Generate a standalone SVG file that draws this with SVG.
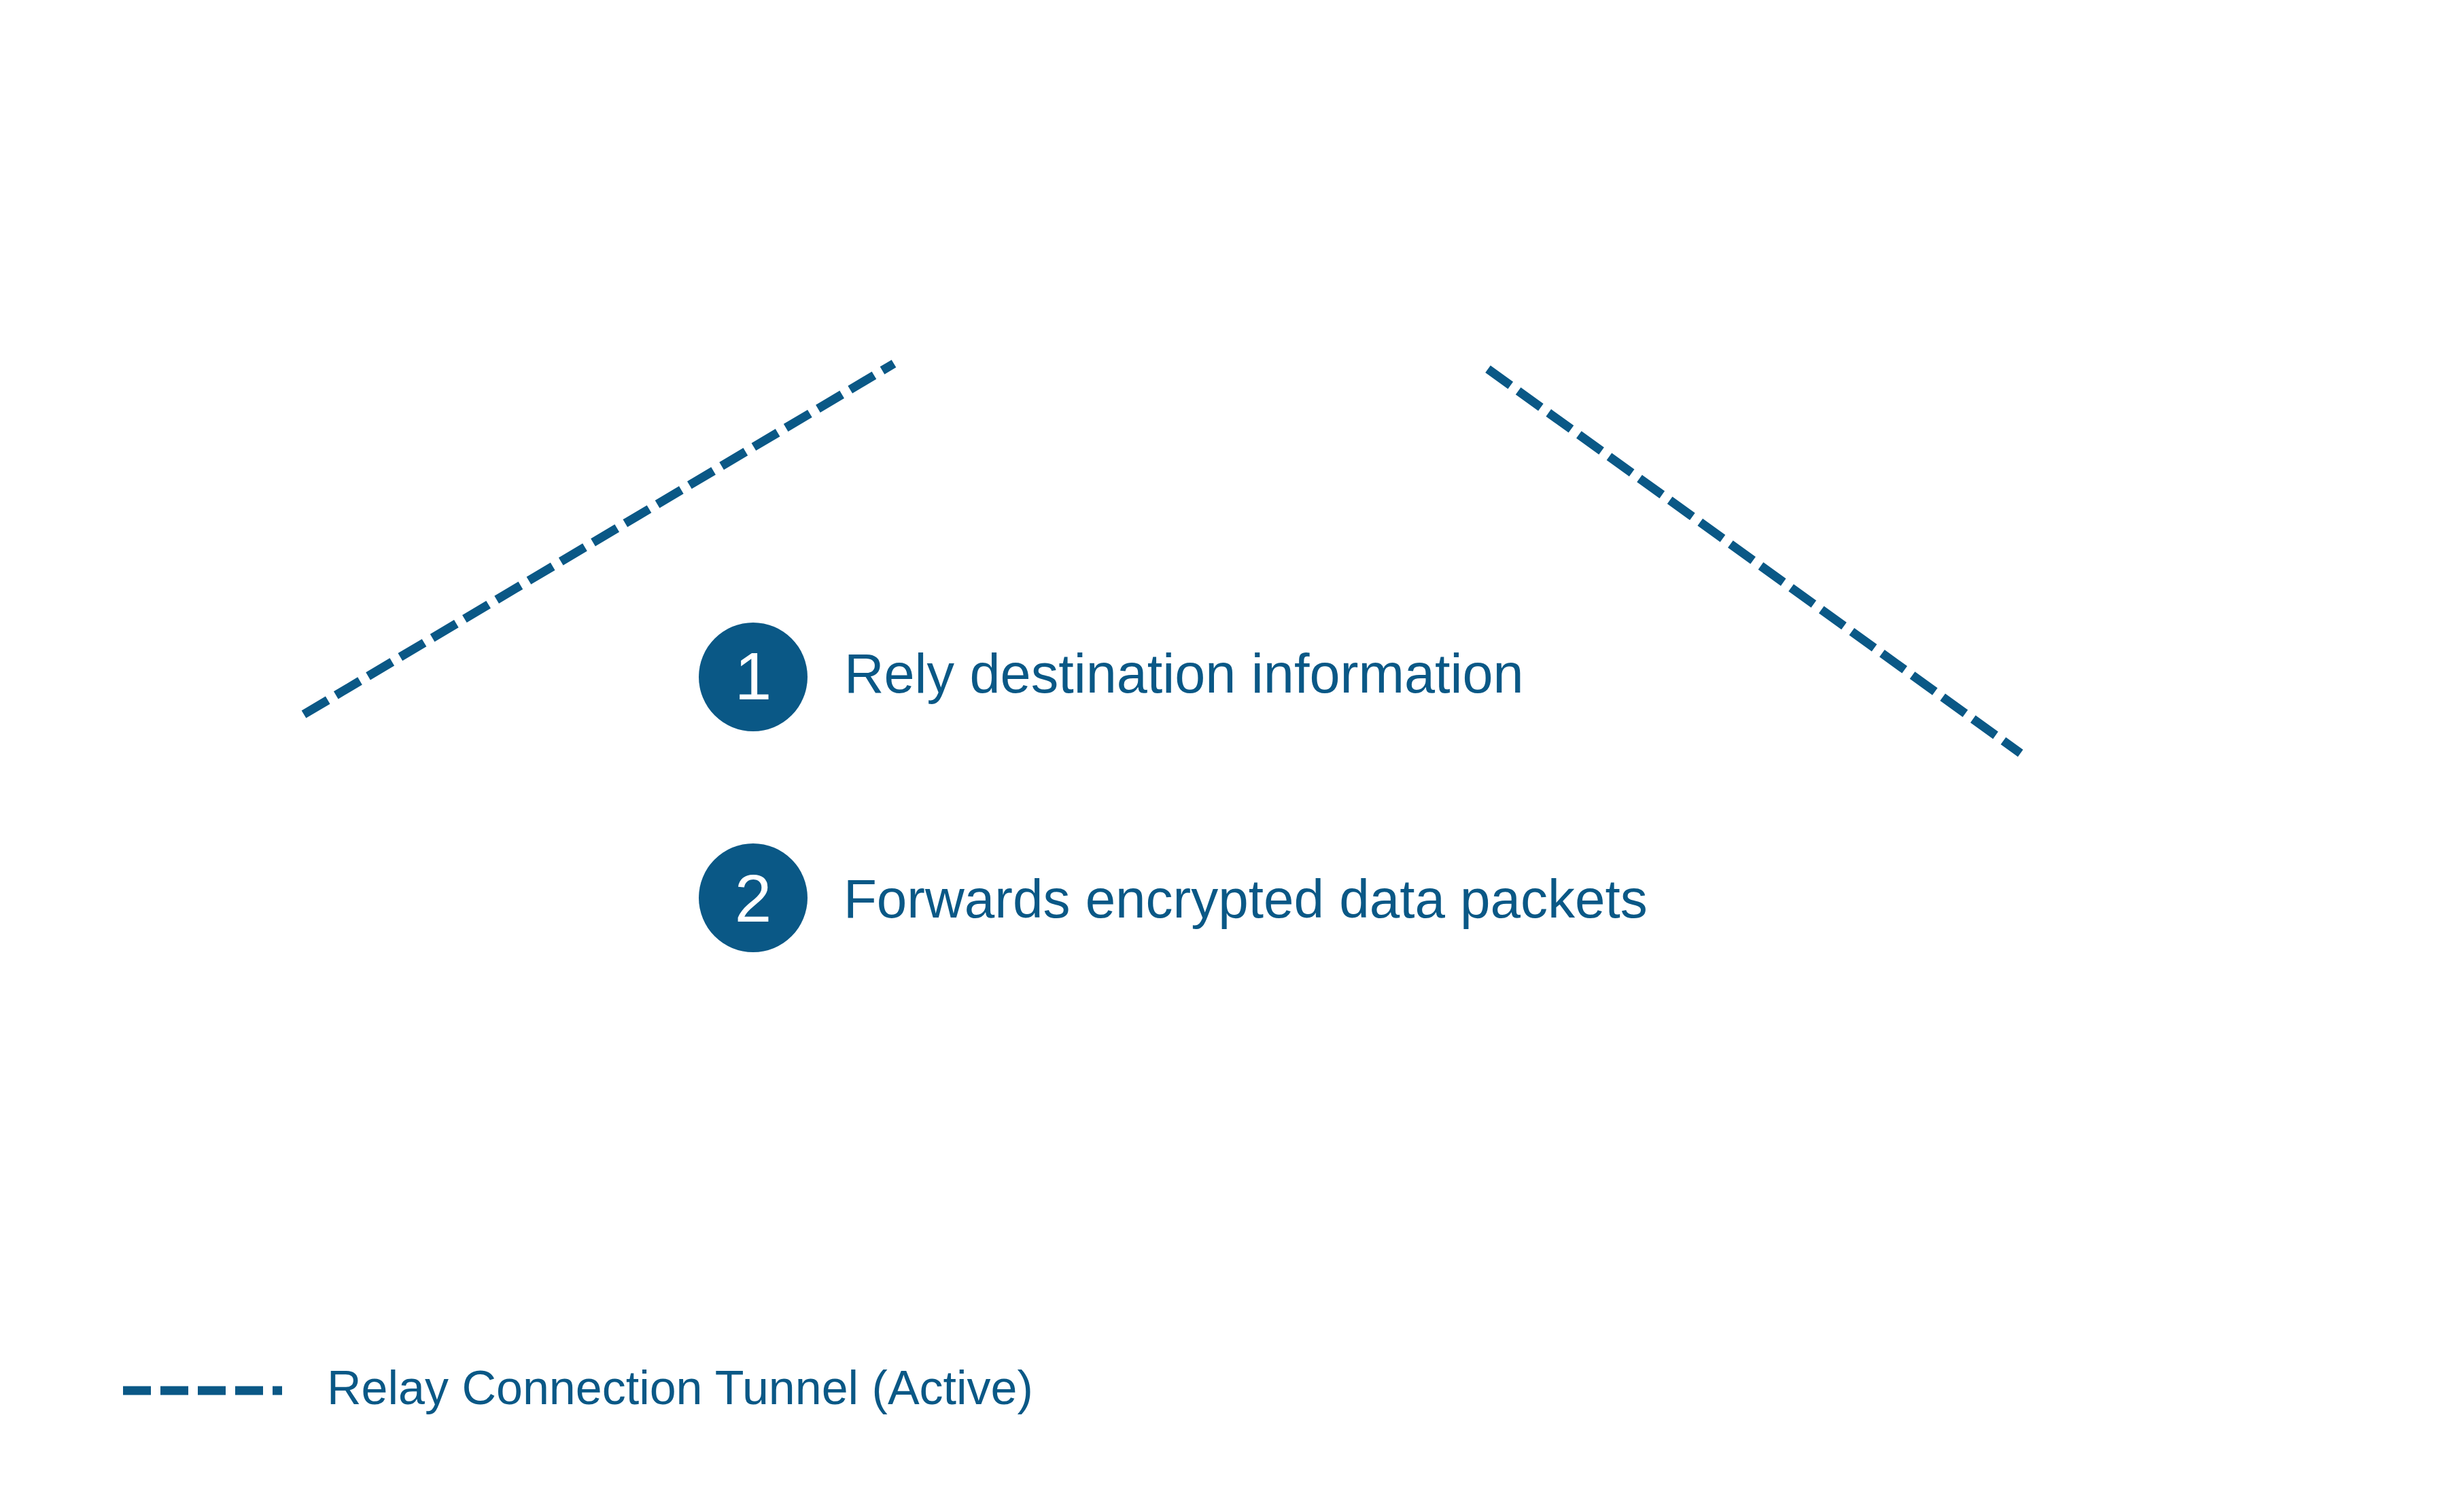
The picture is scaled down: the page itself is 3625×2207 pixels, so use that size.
<svg xmlns="http://www.w3.org/2000/svg" width="3625" height="2207" viewBox="0 0 3625 2207">
  <style>
    .tunnel { fill: none; stroke: #0a5886; stroke-width: 13; stroke-dasharray: 41 14; stroke-linecap: butt; }
    .badge { fill: #0a5886; }
    .num { fill: #ffffff; font-family: "Liberation Sans", Arial, sans-serif; font-size: 98px; text-anchor: middle; }
    .label { fill: #0a5886; font-family: "Liberation Sans", Arial, sans-serif; font-size: 80px; }
    .legend { fill: #0a5886; font-family: "Liberation Sans", Arial, sans-serif; font-size: 70px; }
  </style>
  <rect x="0" y="0" width="3625" height="2207" fill="#ffffff"/>
  <g id="connectors">
    <line class="tunnel" x1="447" y1="1051" x2="1315" y2="535"/>
    <line class="tunnel" x1="2189" y1="543" x2="2972.5" y2="1108.3"/>
  </g>
  <g id="step-1">
    <circle class="badge" cx="1108" cy="996" r="80"/>
    <text class="num" x="1108" y="1029">1</text>
    <text class="label" x="1242" y="1019" style="font-size:81px">Rely destination information</text>
  </g>
  <g id="step-2">
    <circle class="badge" cx="1108" cy="1321" r="80"/>
    <text class="num" x="1108" y="1356">2</text>
    <text class="label" x="1241" y="1350">Forwards encrypted data packets</text>
  </g>
  <g id="legend">
    <line class="tunnel" x1="181" y1="2046" x2="415" y2="2046"/>
    <text class="legend" x="481" y="2066">Relay Connection Tunnel (Active)</text>
  </g>
</svg>
